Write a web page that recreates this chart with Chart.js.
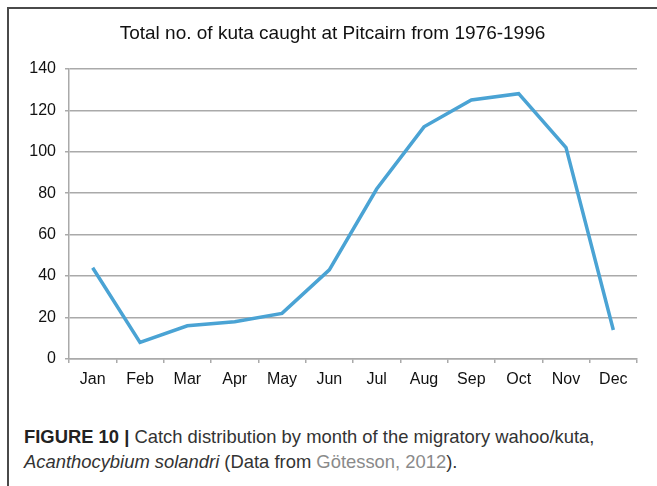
<!DOCTYPE html>
<html>
<head>
<meta charset="utf-8">
<script src="https://cdn.jsdelivr.net/npm/chart.js@4"></script>
<style>
  html, body { margin: 0; padding: 0; background: #fff; }
  #wrap { position: relative; width: 657px; height: 486px; overflow: hidden; }
  #frame { position: absolute; left: 7px; top: 7px; width: 660px; height: 490px;
           border-top: 2px solid #4a4a4a; border-left: 2px solid #4a4a4a; }
  #chartBox { position: absolute; left: 0; top: 0; width: 657px; height: 400px; }
  #caption { position: absolute; left: 24px; top: 424px; width: 630px;
             font-family: "Liberation Sans", Arial, sans-serif; font-size: 18.4px;
             line-height: 25px; color: #333; white-space: nowrap; }
  #caption b { color: #222; }
  #caption .ref { color: #8a8a8a; }
</style>
</head>
<body>
<div id="wrap">
  <div id="frame"></div>
  <div id="chartBox"><canvas id="myChart" width="657" height="400"></canvas></div>
  <div id="caption">
    <b>FIGURE 10 |</b> Catch distribution by month of the migratory wahoo/kuta,<br>
    <i>Acanthocybium solandri</i> (Data from <span class="ref">Götesson, 2012</span>).
  </div>
</div>
<script>
const months = ["Jan", "Feb", "Mar", "Apr", "May", "Jun", "Jul", "Aug", "Sep", "Oct", "Nov", "Dec"];
const kutaCaught = [44, 8, 16, 18, 22, 43, 82, 112, 125, 128, 102, 14];
const yTicks = [0, 20, 40, 60, 80, 100, 120, 140];

const ctx = document.getElementById("myChart").getContext("2d");

// title is centred on the layout box, so left padding nudges it right
// (y labels get clipped to the scale box, so it can't go much further)
const chart = new Chart(ctx, {
  type: "line",
  data: {
    labels: months,
    datasets: [
      {
        label: "Total no. of kuta caught",
        data: kutaCaught,
        borderColor: "#4aa3d4",
        borderWidth: 3.5,
        pointRadius: 0,
        fill: false,
        tension: 0,
      },
    ],
  },
  options: {
    responsive: false,
    animation: false,
    layout: { padding: { left: 28, right: 20, top: 0, bottom: 10 } },
    plugins: {
      legend: { display: false },
      tooltip: { enabled: false },
      title: {
        display: true,
        text: "Total no. of kuta caught at Pitcairn from 1976-1996",
        color: "#111",
        font: { family: "Liberation Sans", size: 19, weight: "normal" },
        padding: { top: 22, bottom: 24 },
      },
    },
    scales: {
      x: {
        offset: true,
        grid: {
          offset: true,
          drawOnChartArea: false,
          drawTicks: true,
          tickLength: 4,
          color: "#aaa",
          lineWidth: 1.5,
        },
        border: { color: "#aaa", width: 1.5 },
        ticks: {
          color: "#111",
          padding: 7,
          font: { family: "Liberation Sans", size: 16 },
        },
        afterFit: (scale) => { scale.height = 31; },
      },
      y: {
        min: 0,
        max: 140,
        afterBuildTicks: (scale) => { scale.ticks = yTicks.map((v) => ({ value: v })); },
        grid: { color: "#aaa", lineWidth: 1.5, tickLength: 4 },
        border: { color: "#aaa", width: 1.5 },
        ticks: {
          color: "#111",
          padding: 9,
          font: { family: "Liberation Sans", size: 16 },
        },
        afterFit: (scale) => { scale.width = 41; },
      },
    },
  },
});
</script>
</body>
</html>
